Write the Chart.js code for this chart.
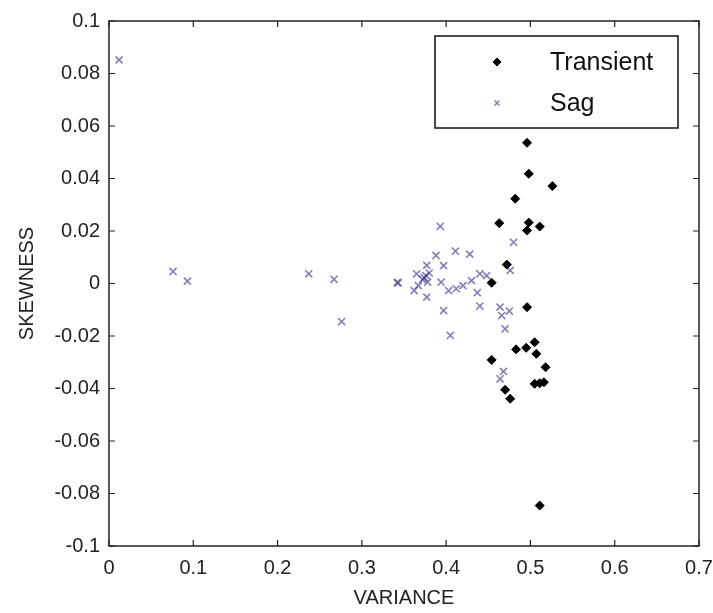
<!DOCTYPE html>
<html>
<head>
<meta charset="utf-8">
<script src="https://cdn.jsdelivr.net/npm/chart.js@4.4.0/dist/chart.umd.min.js"></script>
<style>
  html, body { margin: 0; padding: 0; background: #fff; }
  canvas { display: block; }
</style>
</head>
<body>
<canvas id="scatter" width="713" height="613"></canvas>
<script>
// Values
const transientVariance = [0.496, 0.498, 0.526, 0.482, 0.463, 0.498, 0.496, 0.511, 0.472, 0.454, 0.496,
    0.483, 0.495, 0.505, 0.507, 0.518, 0.454, 0.505, 0.511, 0.516, 0.470, 0.476, 0.511];
const transientSkewness = [0.0536, 0.0418, 0.0371, 0.0323, 0.023, 0.0232, 0.0202, 0.0217, 0.0072, 0.0003, -0.009,
    -0.0251, -0.0245, -0.0224, -0.0268, -0.0319, -0.0291, -0.0382, -0.038, -0.0376, -0.0405, -0.0439, -0.0846];

const sagVariance = [0.012, 0.076, 0.093, 0.237, 0.267, 0.276, 0.342, 0.343, 0.393, 0.411, 0.428, 0.388,
    0.397, 0.377, 0.374, 0.376, 0.372, 0.365, 0.367, 0.362, 0.377, 0.394, 0.403, 0.412, 0.420, 0.430,
    0.440, 0.448, 0.437, 0.440, 0.397, 0.405, 0.480, 0.476, 0.464, 0.475, 0.466, 0.470, 0.468, 0.464,
    0.380, 0.378];
const sagSkewness = [0.0852, 0.0046, 0.0009, 0.0037, 0.0016, -0.0145, 0.0004, 0.0002, 0.0218, 0.0123, 0.0112, 0.0107,
    0.0068, 0.0069, 0.0022, 0.0030, 0.0015, 0.0037, -0.0008, -0.0027, -0.0052, 0.0005, -0.0027, -0.0020, -0.0008, 0.0011,
    0.0037, 0.0030, -0.0035, -0.0086, -0.0103, -0.0198, 0.0157, 0.0050, -0.009, -0.0105, -0.0122, -0.0173, -0.0335, -0.0363,
    0.0040, 0.0005];

const xTicks = [0, 0.1, 0.2, 0.3, 0.4, 0.5, 0.6, 0.7];
const xTickLabels = ['0', '0.1', '0.2', '0.3', '0.4', '0.5', '0.6', '0.7'];
const yTicks = [-0.1, -0.08, -0.06, -0.04, -0.02, 0, 0.02, 0.04, 0.06, 0.08, 0.1];
const yTickLabels = ['-0.1', '-0.08', '-0.06', '-0.04', '-0.02', '0', '0.02', '0.04', '0.06', '0.08', '0.1'];

const legendItems = ['Transient', 'Sag'];

const FONT = '"Liberation Sans", Arial, sans-serif';
const sagColor = 'rgba(50, 50, 145, 0.62)';

function toPoints(xs, ys) {
    return xs.map((x, i) => ({ x: x, y: ys[i] }));
}

// Box round the plot with inward ticks on all four sides, plus the legend
const framePlugin = {
    id: 'frame',
    afterDraw(chart) {
        const { ctx, chartArea: a, scales } = chart;
        ctx.save();
        ctx.strokeStyle = '#222';
        ctx.lineWidth = 1.5;
        ctx.strokeRect(a.left, a.top, a.right - a.left, a.bottom - a.top);
        ctx.lineWidth = 1.2;
        ctx.beginPath();
        xTicks.forEach(v => {
            const px = scales.x.getPixelForValue(v);
            ctx.moveTo(px, a.bottom); ctx.lineTo(px, a.bottom - 6);
            ctx.moveTo(px, a.top); ctx.lineTo(px, a.top + 6);
        });
        yTicks.forEach(v => {
            const py = scales.y.getPixelForValue(v);
            ctx.moveTo(a.left, py); ctx.lineTo(a.left + 6, py);
            ctx.moveTo(a.right, py); ctx.lineTo(a.right - 6, py);
        });
        ctx.stroke();

        // legend box
        const bw = 243, bh = 92;
        const bx = a.right - 21 - bw, by = a.top + 15;
        ctx.fillStyle = '#fff';
        ctx.fillRect(bx, by, bw, bh);
        ctx.strokeStyle = '#111';
        ctx.lineWidth = 1.5;
        ctx.strokeRect(bx, by, bw, bh);

        chart.data.datasets.forEach((ds, i) => {
            const my = by + 26 + i * 41;
            ctx.fillStyle = ds.backgroundColor;
            ctx.strokeStyle = ds.borderColor;
            ctx.lineWidth = ds.borderWidth;
            Chart.helpers.drawPoint(ctx, {
                pointStyle: ds.pointStyle,
                radius: i === 0 ? 4 : 3.5,
                borderWidth: ds.borderWidth
            }, bx + 62, my);
            ctx.fillStyle = '#111';
            ctx.font = '25px ' + FONT;
            ctx.textBaseline = 'middle';
            ctx.textAlign = 'left';
            ctx.fillText(legendItems[i], bx + 115, my + 1);
        });
        ctx.restore();
    }
};

const ctx = document.getElementById('scatter').getContext('2d');
new Chart(ctx, {
    type: 'scatter',
    data: {
        datasets: [
            {
                label: legendItems[0],
                data: toPoints(transientVariance, transientSkewness),
                pointStyle: 'rectRot',
                pointRadius: 4.5,
                backgroundColor: '#000',
                borderColor: '#000',
                borderWidth: 1
            },
            {
                label: legendItems[1],
                data: toPoints(sagVariance, sagSkewness),
                pointStyle: 'crossRot',
                pointRadius: 5,
                backgroundColor: sagColor,
                borderColor: sagColor,
                borderWidth: 1.6
            }
        ]
    },
    options: {
        responsive: false,
        animation: false,
        layout: { padding: { top: 21, right: 14, bottom: 0, left: 0 } },
        plugins: { legend: { display: false }, tooltip: { enabled: false } },
        scales: {
            x: {
                type: 'linear',
                min: 0, max: 0.7,
                afterBuildTicks: s => { s.ticks = xTicks.map(v => ({ value: v })); },
                afterFit: s => { s.height = 67; s.paddingLeft = 0; s.paddingRight = 0; },
                grid: { display: false, drawTicks: false },
                border: { display: false },
                ticks: {
                    padding: 10,
                    color: '#222',
                    font: { family: FONT, size: 20 },
                    callback: (v, i) => xTickLabels[i]
                },
                title: {
                    display: true,
                    text: 'VARIANCE',
                    color: '#222',
                    font: { family: FONT, size: 20 },
                    padding: { top: 0, bottom: 3 }
                }
            },
            y: {
                type: 'linear',
                min: -0.1, max: 0.1,
                afterBuildTicks: s => { s.ticks = yTicks.map(v => ({ value: v })); },
                afterFit: s => { s.width = 109; s.paddingTop = 0; s.paddingBottom = 0; },
                grid: { display: false, drawTicks: false },
                border: { display: false },
                ticks: {
                    padding: 9,
                    color: '#222',
                    font: { family: FONT, size: 20 },
                    callback: (v, i) => yTickLabels[i]
                },
                title: {
                    display: true,
                    text: 'SKEWNESS',
                    color: '#222',
                    font: { family: FONT, size: 20 },
                    padding: { top: 15, bottom: 0 }
                }
            }
        }
    },
    plugins: [framePlugin]
});
</script>
</body>
</html>
